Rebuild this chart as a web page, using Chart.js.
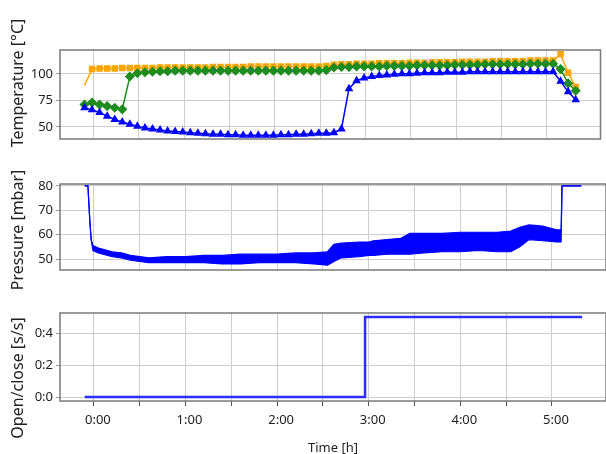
<!DOCTYPE html>
<html>
<head>
<meta charset="utf-8">
<script src="https://cdn.jsdelivr.net/npm/chart.js@4.4.1/dist/chart.umd.min.js"></script>
<style>
  body { margin: 0; width: 606px; height: 454px; background: #fff; position: relative; overflow: hidden; font-family: "Noto Sans", "Open Sans", sans-serif; }
  canvas { position: absolute; left: 0; }
  .ytitle { position: absolute; white-space: nowrap; font-size: 16px; color: #222; transform: translate(-50%, -50%) rotate(-90deg); }
</style>
</head>
<body>
<canvas id="cTemp" width="606" height="150" style="top:0"></canvas>
<canvas id="cPress" width="606" height="150" style="top:150px"></canvas>
<canvas id="cValve" width="606" height="154" style="top:300px"></canvas>
<div class="ytitle" style="left:17px;top:83px">Temperature [°C]</div>
<div class="ytitle" style="left:17px;top:230px">Pressure [mbar]</div>
<div class="ytitle" style="left:17px;top:378px">Open/close [s/s]</div>
<script>
// shared time axis (hours)
const xTickValues = [0, 0.5, 1, 1.5, 2, 2.5, 3, 3.5, 4, 4.5, 5];
const xTickLabels = ['0:00', '', '1:00', '', '2:00', '', '3:00', '', '4:00', '', '5:00'];

// temperatures, one marker every 5 minutes
const tempMinutes = [-6, -1, 4, 9, 14, 19, 24, 29, 34, 39, 44, 49, 54, 59, 64, 69, 74, 79, 84, 89,
  94, 99, 104, 109, 114, 119, 124, 129, 134, 139, 144, 149, 154, 159, 164, 169, 174, 179, 184, 189,
  194, 199, 204, 209, 214, 219, 224, 229, 234, 239, 244, 249, 254, 259, 264, 269, 274, 279, 284, 289,
  294, 299, 304, 309, 314, 319];
const tempOrange = [89, 104.5, 105, 105, 105, 105.5, 105.5, 105.5, 105.5, 105.5, 106, 106, 106, 106, 106, 106, 106, 106.5, 106.5, 106.5,
  106.5, 106.5, 107, 107, 107, 107, 107, 107, 107, 107, 107, 107, 107.5, 108.5, 109, 109, 109.5, 109.5, 109.5, 110,
  110, 110, 110, 110.5, 110.5, 110.5, 111, 111, 111, 111, 111.5, 111.5, 111.5, 111.5, 112, 112, 112, 112, 112, 112.5,
  112.5, 112.5, 112.5, 118.5, 101, 87.5];
const tempGreen = [71, 73, 71, 69.5, 68, 66.5, 97.5, 100.5, 101.5, 102, 102.5, 102.5, 103, 103, 103, 103, 103, 103, 103, 103,
  103, 103, 103, 103, 103, 103, 103, 103, 103, 103, 103, 103, 103.5, 106, 106.5, 106.5, 107, 107, 107, 107,
  107.5, 107.5, 107.5, 107.5, 108, 108, 108, 108, 108, 108.5, 108.5, 108.5, 108.5, 109, 109, 109, 109, 109, 109, 109.5,
  109.5, 109.5, 109.5, 104.5, 91, 84];
const tempBlue = [68, 66, 63.5, 60, 57, 54.5, 52.5, 50.5, 49, 48, 47, 46, 45.5, 45, 44.5, 44, 43.5, 43, 43, 42.5,
  42.5, 42, 42, 42, 42, 42, 42.5, 42.5, 43, 43, 43.5, 44, 44, 44.5, 48, 86, 93.5, 96, 97.5, 98.5,
  99, 99.5, 100, 100, 100.5, 101, 101, 101, 101.5, 101.5, 101.5, 102, 102, 102, 102, 102, 102, 102, 102, 102,
  102, 102, 102, 93, 83, 75.5];
const tempTicks = [50, 75, 100];

// pressure: upper and lower edge of the noisy trace
const pressTimes = [-0.10, -0.065, -0.045, -0.03, -0.01, 0.05, 0.10, 0.20, 0.30, 0.40, 0.50, 0.60, 0.80, 1.00, 1.20,
  1.40, 1.60, 1.80, 2.00, 2.20, 2.40, 2.55, 2.62, 2.70, 2.90, 3.00, 3.05, 3.20, 3.35, 3.45,
  3.60, 3.80, 4.00, 4.20, 4.40, 4.55, 4.65, 4.75, 4.90, 5.05, 5.10, 5.11, 5.32];
const pressUpper = [80, 80, 66, 58, 55.5, 54.5, 54, 53, 52.5, 51.5, 51, 50.5, 51, 51, 51.5,
  51.5, 52, 52, 52, 52.5, 52.5, 53, 56, 56.5, 57, 57, 57.5, 58, 58.5, 60.5,
  60.5, 60.5, 61, 61, 61, 61.5, 63, 64, 63.5, 62, 62, 80, 80];
const pressLower = [80, 80, 66, 58, 53.5, 52.5, 52, 51, 50.5, 49.5, 49, 48.5, 48.5, 48.5, 48.5,
  48, 48, 48.5, 48.5, 48.5, 48, 47.5, 49, 50.5, 51, 51.5, 51.5, 52, 52, 52,
  52.5, 53, 53, 53.5, 53, 53, 55, 58, 57.5, 57, 57, 80, 80];
const pressTicks = [50, 60, 70, 80];

// valve open/close
const valveTimes = [-0.1, 2.96, 5.33];
const valveValues = [0, 0.5, 0.5];
const valveTicks = [0, 0.2, 0.4];
const valveTickLabels = ['0:0', '0:2', '0:4'];

const GRID = '#cdcdcd';
Chart.defaults.font.family = '"Noto Sans", "Open Sans", sans-serif';
Chart.defaults.color = '#333';

const framePlugin = {
  id: 'frame',
  beforeDatasetsDraw(chart) {
    const { ctx, chartArea: a } = chart;
    ctx.save();
    ctx.strokeStyle = '#7a7a7a';
    ctx.lineWidth = 1.5;
    ctx.strokeRect(a.left, a.top, a.right - a.left, a.bottom - a.top);
    ctx.restore();
  }
};

function xAxis(withLabels, height) {
  const axis = {
    type: 'linear',
    min: -0.37,
    max: 5.59,
    afterBuildTicks: a => { a.ticks = xTickValues.map(v => ({ value: v })); },
    afterFit: a => { a.height = height; },
    border: { display: false },
    grid: { color: GRID, drawTicks: withLabels, tickLength: 5, tickColor: '#555' },
    ticks: {
      display: withLabels,
      autoSkip: false,
      maxRotation: 0,
      padding: 6,
      labelOffset: 4,
      color: '#222',
      font: { size: 13 },
      callback: (v, i) => xTickLabels[i]
    }
  };
  if (withLabels) {
    axis.title = { display: true, text: 'Time [h]', color: '#222', font: { size: 13 }, padding: { top: 0, bottom: -2 } };
  }
  return axis;
}

function yAxis(min, max, tickVals, labels) {
  return {
    min: min,
    max: max,
    afterBuildTicks: a => { a.ticks = tickVals.map(v => ({ value: v })); },
    afterFit: a => { a.width = 60; },
    border: { display: false },
    grid: { color: GRID, tickLength: 4, tickColor: '#999' },
    ticks: {
      padding: 3,
      color: '#222',
      font: { size: 13 },
      callback: (v, i) => labels ? labels[i] : String(v)
    }
  };
}

function baseOptions(padTop, xWithLabels, xHeight, yCfg) {
  return {
    responsive: false,
    animation: false,
    layout: { padding: { top: padTop, right: 0, bottom: 0, left: 0 } },
    plugins: { legend: { display: false }, tooltip: { enabled: false } },
    scales: { x: xAxis(xWithLabels, xHeight), y: yCfg }
  };
}

function pts(xs, ys, scale) {
  return xs.map((x, i) => ({ x: scale ? x / 60 : x, y: ys[i] }));
}

new Chart(document.getElementById('cTemp'), {
  type: 'line',
  data: {
    datasets: [
      { data: pts(tempMinutes, tempBlue, true), borderColor: '#0000ff', backgroundColor: '#0000ff',
        borderWidth: 1.5, pointStyle: 'triangle', pointRadius: 3.5, tension: 0 },
      { data: pts(tempMinutes, tempGreen, true), borderColor: '#1e8c1e', backgroundColor: '#1e8c1e',
        borderWidth: 1.5, pointStyle: 'rectRot', pointRadius: 4, tension: 0 },
      { data: pts(tempMinutes, tempOrange, true), borderColor: '#ffa500', backgroundColor: '#ffa500',
        borderWidth: 1.5, pointStyle: 'rect', tension: 0,
        pointRadius: c => c.dataIndex === 0 ? 0 : 3.5 }
    ]
  },
  options: baseOptions(50, false, 11, yAxis(38.5, 122.5, tempTicks)),
  plugins: [framePlugin]
});

new Chart(document.getElementById('cPress'), {
  type: 'line',
  data: {
    datasets: [
      { data: pts(pressTimes, pressUpper), borderColor: '#0000ff', borderWidth: 1.2, pointRadius: 0, tension: 0 },
      { data: pts(pressTimes, pressLower), borderColor: '#0000ff', backgroundColor: '#0000ff',
        borderWidth: 1.2, pointRadius: 0, tension: 0, fill: '-1' }
    ]
  },
  options: baseOptions(34, false, 30, yAxis(45.5, 80.8, pressTicks)),
  plugins: [framePlugin]
});

new Chart(document.getElementById('cValve'), {
  type: 'line',
  data: {
    datasets: [
      { data: pts(valveTimes, valveValues), borderColor: '#2d2dff', borderWidth: 2.5, pointRadius: 0, stepped: true }
    ]
  },
  options: baseOptions(13, true, 53, yAxis(-0.025, 0.525, valveTicks, valveTickLabels)),
  plugins: [framePlugin]
});
</script>
</body>
</html>
